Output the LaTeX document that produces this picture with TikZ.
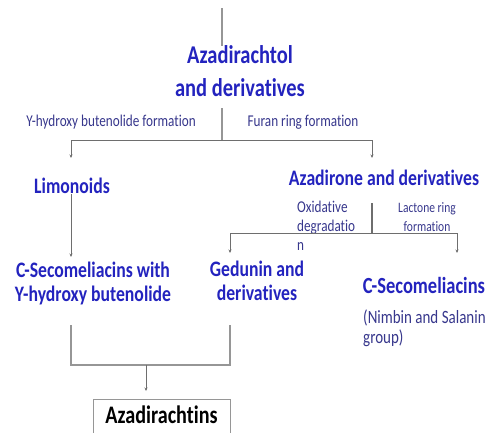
\documentclass[tikz,border=0pt]{standalone}
\usepackage{fontspec}
\setmainfont{Carlito}[FakeStretch=0.8, Ligatures=NoCommon]
\usetikzlibrary{arrows.meta, positioning}
\definecolor{tblue}{RGB}{35,35,190}
\definecolor{lblue}{RGB}{55,55,140}
\definecolor{lgray}{RGB}{150,150,150}
\definecolor{dgray}{RGB}{110,110,110}

\begin{document}
\begin{tikzpicture}[x=1pt, y=-1pt,
        t/.style={font=\bfseries\fontsize{25.6}{33}\selectfont, text=tblue, align=center, inner sep=0pt},
        tb/.style={font=\bfseries\fontsize{22.1}{24}\selectfont, text=tblue, align=center, inner sep=0pt},
        lb/.style={font=\fontsize{16.5}{19}\selectfont, text=lblue, inner sep=0pt},
        e/.style={-{Stealth[length=3.5pt, width=3pt]}, dgray, line width=1pt},
        ln/.style={lgray, line width=1.2pt}]
        \useasboundingbox (0,0) rectangle (487,432);

        \draw node[t] (azo) at (240,71.5) {Azadirachtol\\and derivatives};
        \draw node[lb] (lyhb) at (111,122) {Y-hydroxy butenolide formation}
              node[lb] (lfur) at (303,122) {Furan ring formation};

        \draw node[tb] (limo) at (72,186) {Limonoids}
              node[tb] (azr) at (384,178) {Azadirone and derivatives};

        \draw node[lb, align=left, anchor=west] (lox) at (297,226) {Oxidative\\degradatio\\n};
        \draw node[lb, font=\fontsize{14.4}{19}\selectfont, align=center] (llac) at (427,217.5) {Lactone ring\\formation};

        \draw node[tb] (cswith) at (93,283) {C-Secomeliacins with\\Y-hydroxy butenolide}
              node[tb] (ged) at (257,281) {Gedunin and\\derivatives};
        \draw node[tb, font=\bfseries\fontsize{23.1}{24}\selectfont] (cseco) at (424,285) {C-Secomeliacins};
        \draw node[lb, font=\fontsize{18.75}{20}\selectfont, align=left, anchor=west] (nimb) at (363,328) {(Nimbin and Salanin\\group)};

        \draw node[draw=lgray, line width=0.8pt, anchor=north, minimum width=137pt, inner sep=0pt,
              text height=24pt, text depth=20pt, font=\bfseries\fontsize{25.2}{24}\selectfont] (azn) at (161.5,399) {Azadirachtins};

        % junctions
        \coordinate (top) at (222,8);
        \coordinate (j0) at (222,108);
        \coordinate (j1) at (222,140);
        \coordinate (a1) at (71,158);
        \coordinate (a2) at (372,158);
        \coordinate (j2a) at (372,203);
        \coordinate (j2) at (372,233);
        \coordinate (a3) at (71,257);
        \coordinate (a4) at (230,253);
        \coordinate (a5) at (457,253);
        \coordinate (b1) at (71,325);
        \coordinate (b2) at (230,325);
        \coordinate (j3) at (146,365);
        \coordinate (a6) at (146,391);

        \draw[ln] (top) -- (top |- azo.north);
        \draw[ln] (j0) -- (j1);
        \draw[e] (j1) -| (a1);
        \draw[e] (j1) -| (a2);
        \draw[e] (limo.south -| a3) -- (a3);
        \draw[ln, dgray] (j2a) -- (j2);
        \draw[e] (j2) -| (a4);
        \draw[e] (j2) -| (a5);
        \draw[ln] (b1) |- (j3) -| (b2);
        \draw[e] (j3) -- (a6);
      \end{tikzpicture}
\end{document}
